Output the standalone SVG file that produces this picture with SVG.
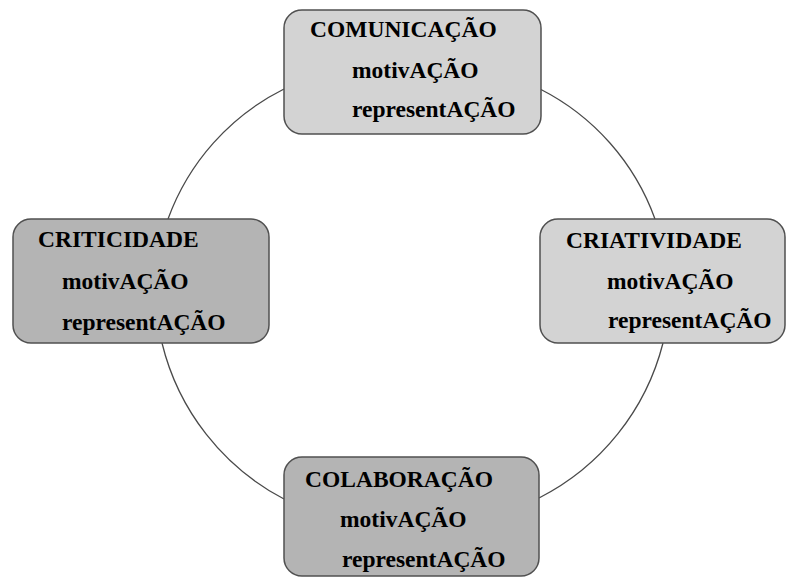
<svg xmlns="http://www.w3.org/2000/svg" width="787" height="577" viewBox="0 0 787 577">
<style>
  .box { stroke: #505050; stroke-width: 1.5; }
  .light { fill: #d3d3d3; }
  .dark { fill: #b4b4b4; }
  .t { font-family: "Liberation Serif", "Times New Roman", serif; font-weight: bold; font-size: 23.5px; fill: #000; }
  .arc { fill: none; stroke: #4a4a4a; stroke-width: 1.3; }
</style>
<rect width="787" height="577" fill="#ffffff"/>
<g id="connectors">
  <path class="arc" d="M168,219 A235,235 0 0 1 284,89"/>
  <path class="arc" d="M540,89 A235,235 0 0 1 655,219"/>
  <path class="arc" d="M663,343 A240,240 0 0 1 539,498"/>
  <path class="arc" d="M284,499 A240,240 0 0 1 162,343"/>
</g>
<g id="comunicacao">
  <rect class="box light" x="284" y="10" width="257" height="124" rx="18"/>
  <text class="t" x="310" y="37">COMUNICAÇÃO</text>
  <text class="t" x="352" y="78">motivAÇÃO</text>
  <text class="t" x="352" y="117">representAÇÃO</text>
</g>
<g id="criticidade">
  <rect class="box dark" x="13" y="219" width="256" height="124" rx="18"/>
  <text class="t" x="38" y="247">CRITICIDADE</text>
  <text class="t" x="62" y="289">motivAÇÃO</text>
  <text class="t" x="62" y="330">representAÇÃO</text>
</g>
<g id="criatividade">
  <rect class="box light" x="540" y="219" width="245" height="124" rx="18"/>
  <text class="t" x="566" y="248">CRIATIVIDADE</text>
  <text class="t" x="607" y="289">motivAÇÃO</text>
  <text class="t" x="608" y="328">representAÇÃO</text>
</g>
<g id="colaboracao">
  <rect class="box dark" x="284" y="457" width="255" height="119" rx="18"/>
  <text class="t" x="305" y="487">COLABORAÇÃO</text>
  <text class="t" x="340" y="527">motivAÇÃO</text>
  <text class="t" x="342" y="567">representAÇÃO</text>
</g>
</svg>
